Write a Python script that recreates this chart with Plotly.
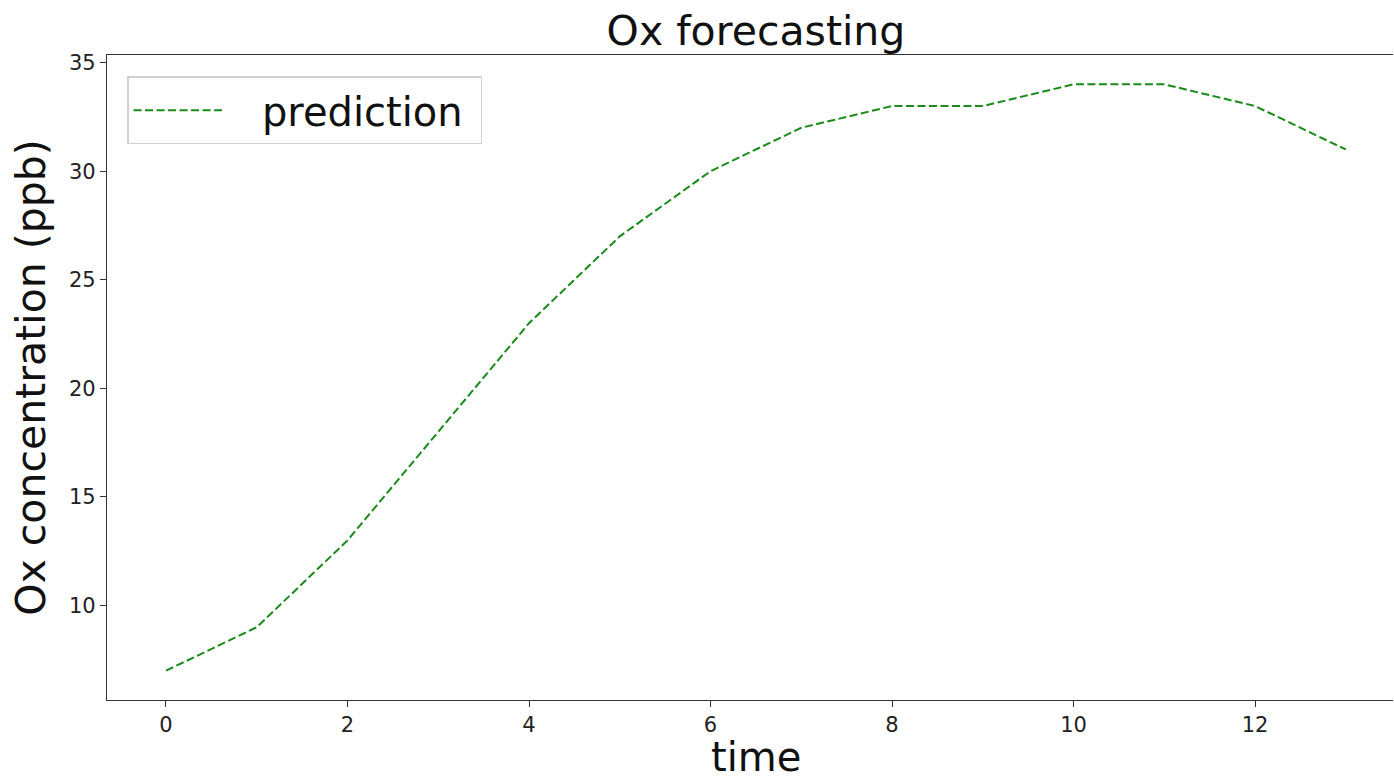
import plotly.graph_objects as go

time = list(range(14))
prediction = [7, 9, 13, 18, 23, 27, 30, 32, 33, 33, 34, 34, 33, 31]
x_ticks = [0, 2, 4, 6, 8, 10, 12]
y_ticks = [10, 15, 20, 25, 30, 35]

FONT = "DejaVu Sans"

fig = go.Figure()
fig.add_trace(go.Scatter(
    x=time, y=prediction, mode="lines", name="\u00a0\u00a0\u2009prediction\u00a0",
    line=dict(color="#1a8a1a", width=2, dash="8px,3.5px"),
))

fig.update_layout(
    width=1394, height=779,
    margin=dict(l=107, r=1, t=55, b=79, autoexpand=False),
    paper_bgcolor="white", plot_bgcolor="white",
    font=dict(family=FONT, color="#111"),
    title=dict(text="Ox forecasting", font=dict(size=41, family=FONT, color="#111"),
               x=756/1394, xanchor="center", xref="container",
               y=1-31/779, yanchor="middle", yref="container"),
    showlegend=True,
    legend=dict(x=0.0156, y=0.967, xanchor="left", yanchor="top",
                bgcolor="white", bordercolor="#d0d0d0", borderwidth=1.5,
                font=dict(size=40, family=FONT, color="#111"),
                itemwidth=90),
    annotations=[dict(text="time", xref="paper", yref="paper",
                      x=(756-107)/1286, y=-(757-700)/645,
                      xanchor="center", yanchor="middle", showarrow=False,
                      font=dict(size=40, family=FONT, color="#111"))],
)

fig.update_xaxes(
    range=[-0.65, 13.52], tickvals=x_ticks, ticks="outside", ticklen=6, tickwidth=1.3,
    tickcolor="#333", showline=True, linecolor="#333", linewidth=1.3, mirror=True,
    showgrid=False, zeroline=False, tickfont=dict(size=21, family=FONT, color="#222"),
    automargin=False,
)
fig.update_yaxes(
    range=[5.65, 35.35], tickvals=y_ticks, ticks="outside", ticklen=6, tickwidth=1.3,
    tickcolor="#333", showline=True, linecolor="#333", linewidth=1.3, mirror=False,
    showgrid=False, zeroline=False, tickfont=dict(size=21, family=FONT, color="#222"),
    automargin=False,
    title=dict(text="Ox concentration (ppb)", font=dict(size=41, family=FONT, color="#111"), standoff=10),
)

fig.write_html("out.html",
               config={"displayModeBar": False},
               post_script="document.body.style.margin='0';document.body.style.overflow='hidden';")
